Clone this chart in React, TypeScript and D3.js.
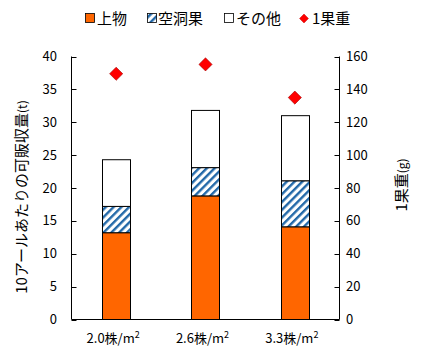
import * as d3 from "d3";

const categories = ["2.0株/m", "2.6株/m", "3.3株/m"];
const upper = [13.2, 18.8, 14.1];
const hollow = [4.0, 4.3, 7.0];
const other = [7.1, 8.7, 9.9];
const fruitWeight = [149.5, 155.2, 135.0];
const leftTicks = [0, 5, 10, 15, 20, 25, 30, 35, 40];
const rightTicks = [0, 20, 40, 60, 80, 100, 120, 140, 160];

const W = 433;
const H = 360;
const left = 71.5;
const right = 339.5;
const top = 56.5;
const bottom = 319.5;
const font = "'Noto Sans CJK JP', 'Noto Sans', sans-serif";

export default function App() {
  const x = d3
    .scaleBand<string>()
    .domain(categories)
    .range([left, right])
    .paddingInner(0.686)
    .paddingOuter(0.343);
  const y = d3.scaleLinear().domain([0, 40]).range([bottom, top]);
  const y2 = d3.scaleLinear().domain([0, 160]).range([bottom, top]);

  const rows = categories.map((c, i) => ({ c, upper: upper[i], hollow: hollow[i], other: other[i] }));
  const stack = d3.stack<(typeof rows)[number]>().keys(["upper", "hollow", "other"])(rows as any);
  const fills = ["#FF6600", "url(#hatch)", "#FFFFFF"];

  const diamond = d3.symbol().type(d3.symbolDiamond2).size(110)();

  return (
    <svg width={W} height={H} style={{ position: "absolute", left: 0, top: 0, fontFamily: font }}>
      <defs>
        <pattern id="hatch" patternUnits="userSpaceOnUse" width="5.5" height="5.5" patternTransform="rotate(45)">
          <rect width="5.5" height="5.5" fill="#fff" />
          <rect x="0" y="0" width="2.4" height="5.5" fill="#2268A8" />
        </pattern>
      </defs>
      <rect width={W} height={H} fill="#fff" />

      {/* Legend */}
      <g fontSize={15} fill="#000">
        <rect x={85.5} y={13.5} width={9} height={9} fill="#FF6600" stroke="#000" strokeWidth={0.8} />
        <text x={97} y={24}>上物</text>
        <rect x={147.5} y={13.5} width={9} height={9} fill="url(#hatch)" stroke="#000" strokeWidth={0.8} />
        <text x={158} y={24}>空洞果</text>
        <rect x={224.5} y={13.5} width={9} height={9} fill="#fff" stroke="#000" strokeWidth={0.8} />
        <text x={236} y={24}>その他</text>
        <path d={d3.symbol().type(d3.symbolDiamond2).size(50)()!} transform="translate(304,18.5)" fill="#FF0000" stroke="#C00000" strokeWidth={0.5} />
        <text x={312} y={24}>1果重</text>
      </g>

      {/* Bars */}
      {stack.map((s, k) =>
        s.map((d, i) => (
          <rect
            key={`${k}-${i}`}
            x={Math.round(x(categories[i])!) + 0.5}
            y={y(d[1])}
            width={Math.round(x.bandwidth())}
            height={y(d[0]) - y(d[1])}
            fill={fills[k]}
            stroke="#000"
            strokeWidth={1}
          />
        ))
      )}

      {/* Diamonds */}
      {fruitWeight.map((v, i) => (
        <path
          key={i}
          d={diamond!}
          transform={`translate(${x(categories[i])! + x.bandwidth() / 2},${y2(v)})`}
          fill="#FF0000"
          stroke="#A00000"
          strokeWidth={0.6}
        />
      ))}

      {/* Axes */}
      <g stroke="#000" strokeWidth={1} fill="none">
        <line x1={left} x2={left} y1={top} y2={bottom} />
        <line x1={right} x2={right} y1={top} y2={bottom} />
        <line x1={left} x2={right} y1={bottom} y2={bottom} />
        {leftTicks.map((t) => (
          <line key={t} x1={left} x2={left + 5} y1={Math.round(y(t)) + 0.5} y2={Math.round(y(t)) + 0.5} />
        ))}
        {rightTicks.map((t) => (
          <line key={t} x1={right - 5} x2={right} y1={Math.round(y2(t)) + 0.5} y2={Math.round(y2(t)) + 0.5} />
        ))}
      </g>

      <g fontSize={13} fill="#000">
        {leftTicks.map((t) => (
          <text key={t} x={57} y={y(t) + 4.5} textAnchor="end">{t}</text>
        ))}
        {rightTicks.map((t) => (
          <text key={t} x={346} y={y2(t) + 4.5} textAnchor="start">{t}</text>
        ))}
        {categories.map((c) => (
          <text key={c} x={x(c)! + x.bandwidth() / 2 - 3} y={343} textAnchor="middle">
            {c}
            <tspan fontSize={9} dy={-5}>2</tspan>
          </text>
        ))}
      </g>

      {/* Axis titles */}
      <text transform="translate(27,197) rotate(-90)" textAnchor="middle" fontSize={15}>
        10アールあたりの可販収量<tspan fontSize={12}>(t)</tspan>
      </text>
      <text transform="translate(407,185) rotate(-90)" textAnchor="middle" fontSize={15}>
        1果重<tspan fontSize={12}>(g)</tspan>
      </text>
    </svg>
  );
}
